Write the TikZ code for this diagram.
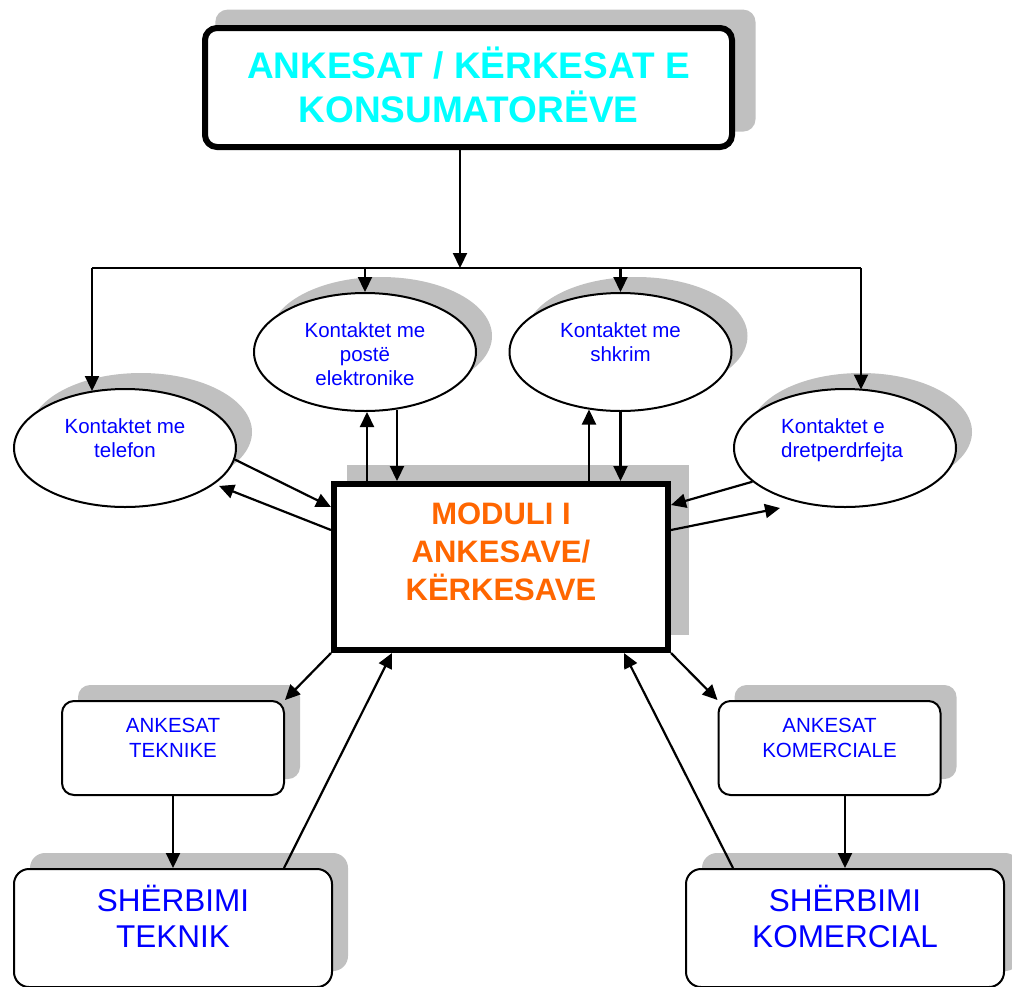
\documentclass[tikz,border=0pt]{standalone}
\usepackage{fontspec}
\setmainfont{Liberation Sans}
\usetikzlibrary{arrows.meta,shapes.geometric,shadows,calc}
\definecolor{shadowgray}{RGB}{192,192,192}
\definecolor{txtblue}{RGB}{0,0,255}
\definecolor{txtcyan}{RGB}{0,255,255}
\definecolor{txtorange}{RGB}{255,102,0}
\begin{document}
\begin{tikzpicture}[x=1pt,y=-1pt,
  shadowed/.style={general shadow={fill=shadowgray,shadow xshift=16pt,shadow yshift=16pt}},
  bigshadowed/.style={general shadow={fill=shadowgray,shadow xshift=16.5pt,shadow yshift=16.5pt,shadow scale=1.025}},
  ell/.style={ellipse,draw,line width=2pt,fill=white,minimum width=222pt,minimum height=118pt,inner sep=0pt,shadowed},
  smallbox/.style={rectangle,rounded corners=12pt,draw,line width=2pt,fill=white,minimum width=222pt,minimum height=94pt,inner sep=0pt,shadowed},
  bigbox/.style={rectangle,rounded corners=15pt,draw,line width=2pt,fill=white,minimum width=318pt,minimum height=118pt,inner sep=0pt,shadowed},
  titlebox/.style={rectangle,rounded corners=12pt,draw,line width=6pt,fill=white,minimum width=527pt,minimum height=119pt,inner sep=0pt,bigshadowed},
  modbox/.style={rectangle,draw,line width=6pt,fill=white,minimum width=334pt,minimum height=166pt,inner sep=0pt,bigshadowed},
  etext/.style={font=\fontsize{20.5}{24}\selectfont,text=txtblue,align=center,inner sep=0pt},
  btext/.style={font=\fontsize{20.5}{25}\selectfont,text=txtblue,align=center,inner sep=0pt},
  stext/.style={font=\fontsize{31.5}{36}\selectfont,text=txtblue,align=center,inner sep=0pt},
  mtext/.style={font=\fontsize{31}{38}\selectfont\bfseries,text=txtorange,align=center,inner sep=0pt},
  ttext/.style={font=\fontsize{37}{44}\selectfont\bfseries,text=txtcyan,align=center,inner sep=0pt},
  conn/.style={line width=2.2pt},
  arr/.style={line width=2.2pt,-{Triangle[length=15pt,width=14pt]}}
]
\useasboundingbox (0,0) rectangle (1012,986);

% shapes
\node[titlebox] (title) at (468.5,87.5) {};
\node[ttext] (title-t) at (468.5,85.1) {ANKESAT / KËRKESAT E\\KONSUMATORËVE};

\node[ell] (telefon) at (125,448) {};
\node[etext] (telefon-t) at (125,437.7) {Kontaktet me\\telefon};
\node[ell] (poste) at (365,352) {};
\node[etext] (poste-t) at (365,353.7) {Kontaktet me\\postë\\elektronike};
\node[ell] (shkrim) at (620.5,352) {};
\node[etext] (shkrim-t) at (620.5,341.7) {Kontaktet me\\shkrim};
\node[ell] (dret) at (845,448) {};
\node[etext,align=left,anchor=west] (dret-t) at (781,439.8) {Kontaktet e\\dretperdrfejta};

\node[modbox] (modul) at (501,567) {};
\node[mtext] (modul-t) at (501,552) {MODULI I\\ANKESAVE/\\KËRKESAVE};

\node[smallbox] (tek) at (173,748) {};
\node[btext] (tek-t) at (173,738.2) {ANKESAT\\TEKNIKE};
\node[smallbox] (kom) at (829.5,748) {};
\node[btext] (kom-t) at (829.5,738.2) {ANKESAT\\KOMERCIALE};

\node[bigbox] (tekS) at (173,928) {};
\node[stext] (tekS-t) at (173,916.5) {SHËRBIMI\\TEKNIK};
\node[bigbox] (komS) at (845,928) {};
\node[stext] (komS-t) at (845,916.5) {SHËRBIMI\\KOMERCIAL};

% distribution bus
\coordinate (bus) at (460,268);
\coordinate (busL) at (92,268);
\coordinate (busR) at (861,268);
\draw[arr] (title.south -| bus) -- (bus);
\draw[conn] (busL) -- (busR);
\draw[arr] (busL) -- ($(busL |- telefon.north)+(0,3)$);
\draw[arr] (poste.north |- bus) -- (poste.north);
\draw[arr] (shkrim.north |- bus) -- (shkrim.north);
\draw[arr] (busR) -- ($(busR |- dret.north)+(0,1.5)$);

% ellipses <-> module
\draw[arr] ($(modul.north -| poste.south)+(2,0)$) -- ($(poste.south)+(2,0)$);
\draw[arr] ($(poste.south)+(32,-2.5)$) -- ($(modul.north -| poste.south)+(32,0)$);
\draw[arr] ($(modul.north -| shkrim.south)+(-31.5,0)$) -- ($(shkrim.south)+(-31.5,-2.5)$);
\draw[arr] (shkrim.south) -- (modul.north -| shkrim.south);

\draw[arr] (telefon.-6) -- ($(modul.west)+(0,-60)$);
\draw[arr,shorten >=5pt] ($(modul.west)+(0,-37)$) -- (telefon.-22);
\coordinate (dretin) at (780,508);
\draw[arr] (dret.-160) -- ($(modul.east)+(0,-62)$);
\draw[arr] ($(modul.east)+(0,-37)$) -- (dretin);

% module <-> bottom
\draw[arr] (modul.south west) -- (tek.north east);
\draw[arr] (modul.south east) -- (kom.north west);
\draw[arr] (tek.south) -- (tekS.north);
\draw[arr] (kom.south -| komS.north) -- (komS.north);
\draw[arr] ($(tekS.north)+(111,0)$) -- ($(modul.south)+(-109,0)$);
\draw[arr] ($(komS.north)+(-112,0)$) -- ($(modul.south)+(123,0)$);
\end{tikzpicture}
\end{document}
